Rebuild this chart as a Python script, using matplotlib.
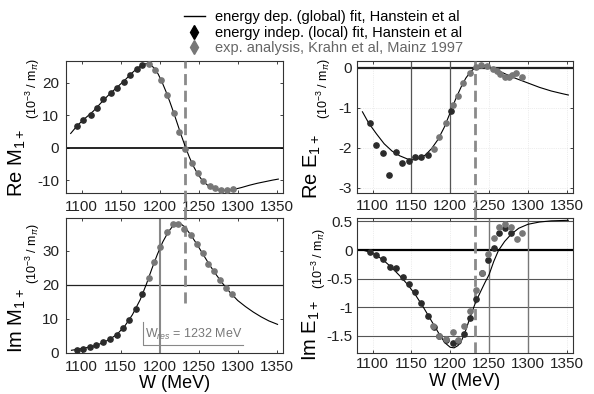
import matplotlib
matplotlib.use("Agg")
from matplotlib import pyplot as plt
from matplotlib.lines import Line2D

plt.rcParams['font.family'] = ['Liberation Sans', 'DejaVu Sans']
plt.rcParams['axes.unicode_minus'] = False
plt.rcParams['mathtext.fontset'] = 'custom'
plt.rcParams['mathtext.rm'] = 'Liberation Sans'
plt.rcParams['mathtext.it'] = 'Liberation Sans:italic'

W_RES = 1232
XTICKS = [1100, 1150, 1200, 1250, 1300, 1350]

# ---- Re M1+ ----
reM_fit_w = [1086, 1095, 1105, 1115, 1125, 1135, 1145, 1155, 1165, 1172, 1178, 1183, 1188,
             1193, 1198, 1203, 1208, 1213, 1218, 1223, 1228, 1233, 1238, 1243, 1248, 1253,
             1258, 1263, 1268, 1274, 1280, 1287, 1295, 1305, 1315, 1325, 1335, 1345, 1352]
reM_fit = [4.4, 7.0, 9.2, 11.3, 13.9, 16.4, 18.6, 20.8, 23.2, 24.7, 25.6, 26.0, 25.7,
           24.6, 22.8, 20.3, 17.4, 14.2, 10.8, 7.2, 3.6, 0.2, -2.9, -5.6, -7.8, -9.6,
           -10.9, -11.9, -12.6, -13.0, -13.2, -13.2, -12.9, -12.3, -11.6, -11.0, -10.5, -10.0, -9.7]
reM_loc_w = [1094, 1102, 1112, 1120, 1128, 1138, 1145, 1154, 1162, 1171, 1178]
reM_loc = [6.8, 8.6, 10.1, 12.4, 14.9, 17.0, 18.6, 20.4, 22.5, 24.3, 25.5]
reM_exp_w = [1186, 1194, 1202, 1210, 1218, 1225, 1233, 1241, 1249, 1256, 1264, 1271, 1278, 1286, 1294]
reM_exp = [26.0, 24.0, 21.0, 16.4, 10.7, 4.7, -0.5, -4.8, -7.9, -10.2, -11.8, -12.6, -13.1, -13.0, -12.8]

# ---- Re E1+ ----
reE_fit_w = [1087, 1095, 1105, 1115, 1125, 1135, 1145, 1152, 1160, 1168, 1176, 1184, 1192,
             1200, 1207, 1214, 1220, 1226, 1232, 1238, 1244, 1250, 1257, 1265, 1275, 1285,
             1300, 1315, 1330, 1345, 1352]
reE_fit = [-1.10, -1.38, -1.65, -1.90, -2.08, -2.20, -2.28, -2.30, -2.27, -2.18, -2.02, -1.80, -1.50,
           -1.12, -0.78, -0.48, -0.26, -0.10, 0.0, 0.05, 0.06, 0.03, -0.03, -0.10, -0.19, -0.27,
           -0.38, -0.49, -0.58, -0.65, -0.68]
reE_loc_w = [1097, 1104, 1113, 1121, 1130, 1138, 1147, 1155, 1162, 1171, 1201]
reE_loc = [-1.38, -1.92, -2.12, -2.67, -2.11, -2.37, -2.32, -2.22, -2.22, -2.17, -1.08]
reE_exp_w = [1179, 1186, 1195, 1203, 1210, 1217, 1225, 1233, 1240, 1247, 1255, 1260, 1264,
             1271, 1276, 1280, 1285, 1292]
reE_exp = [-2.02, -1.72, -1.39, -0.93, -0.71, -0.38, -0.12, 0.03, 0.07, 0.05, -0.02, -0.08, -0.15,
           -0.22, -0.22, -0.17, -0.12, -0.22]

# ---- Im M1+ ----
imM_fit_w = [1087, 1095, 1105, 1115, 1125, 1135, 1145, 1155, 1165, 1175, 1183, 1190, 1197,
             1204, 1211, 1217, 1222, 1227, 1232, 1240, 1248, 1256, 1264, 1272, 1280, 1290,
             1300, 1310, 1320, 1330, 1340, 1351]
imM_fit = [0.8, 1.1, 1.5, 2.0, 2.8, 3.9, 5.4, 7.8, 11.2, 15.6, 20.2, 24.7, 28.9,
           32.6, 35.5, 37.3, 38.0, 37.9, 37.0, 34.6, 31.8, 28.8, 25.8, 23.1, 20.6, 17.8,
           15.4, 13.6, 12.0, 10.6, 9.4, 8.4]
imM_loc_w = [1094, 1102, 1111, 1119, 1128, 1136, 1145, 1153, 1161, 1170, 1178]
imM_loc = [1.0, 1.3, 1.8, 2.3, 3.1, 4.0, 5.4, 7.2, 9.8, 12.8, 17.4]
imM_exp_w = [1186, 1193, 1201, 1209, 1217, 1224, 1231, 1240, 1248, 1255, 1262, 1270, 1277, 1285, 1293]
imM_exp = [22.1, 26.7, 31.1, 35.5, 37.8, 37.8, 36.5, 34.5, 32.1, 29.2, 26.2, 24.0, 21.3, 19.2, 17.2]

# ---- Im E1+ ----
imE_fit_w = [1087, 1095, 1105, 1115, 1125, 1135, 1145, 1155, 1165, 1175, 1185, 1193, 1200,
             1205, 1210, 1215, 1220, 1226, 1233, 1240, 1245, 1250, 1256, 1262, 1270, 1278,
             1288, 1300, 1315, 1330, 1352]
imE_fit = [0.0, -0.03, -0.09, -0.19, -0.31, -0.45, -0.60, -0.78, -0.99, -1.22, -1.45, -1.62, -1.70,
           -1.71, -1.67, -1.57, -1.40, -1.16, -0.90, -0.70, -0.56, -0.43, -0.20, -0.01, 0.15, 0.27,
           0.38, 0.45, 0.49, 0.51, 0.52]
imE_loc_w = [1097, 1104, 1113, 1122, 1130, 1139, 1147, 1155, 1163, 1171, 1179, 1186, 1195,
             1203, 1210, 1218, 1226, 1233, 1241, 1248, 1256, 1263, 1271, 1278]
imE_loc = [-0.03, -0.09, -0.16, -0.30, -0.32, -0.47, -0.59, -0.73, -0.93, -1.15, -1.35, -1.50, -1.58,
           -1.63, -1.59, -1.47, -1.19, -0.86, -0.41, -0.17, 0.04, 0.30, 0.38, 0.29]
imE_exp_w = [1178, 1186, 1195, 1203, 1210, 1218, 1226, 1233, 1241, 1248, 1256, 1263, 1271, 1278, 1286, 1293]
imE_exp = [-1.33, -1.50, -1.56, -1.43, -1.57, -1.33, -1.07, -0.70, -0.41, -0.07, 0.21, 0.41, 0.46, 0.41, 0.19, 0.30]

DARK = '#2b2b2b'
GREY = '#777777'
DASH = '#8a8a8a'

fig = plt.figure(figsize=(5.94, 3.94), dpi=100)
W, H = 594, 394


def px_axes(x0, y0, x1, y1):
    return fig.add_axes([x0 / W, 1 - y1 / H, (x1 - x0) / W, (y1 - y0) / H])


def style(ax, ylim, yticks, ylabels, pad=5):
    ax.set_xlim(1080, 1358)
    ax.set_ylim(*ylim)
    ax.set_xticks(XTICKS)
    ax.set_yticks(yticks)
    ax.set_yticklabels(ylabels)
    ax.tick_params(direction='in', length=2.5, width=0.6, labelsize=11, pad=pad,
                   top=True, right=True, colors='#222222')
    for s in ax.spines.values():
        s.set_linewidth(0.8)
        s.set_color('#333333')


def draw(ax, fw, fv, lw_, lv, ew, ev):
    ax.plot(fw, fv, color='black', lw=0.8, zorder=4)
    ax.plot(lw_, lv, 'o', color=DARK, ms=3.8, mec=DARK, zorder=5)
    ax.plot(ew, ev, 'o', color=GREY, ms=3.8, mec=GREY, zorder=6)


def ylabel(xbig, xsmall, ax, fbig, fsmall, big):
    pos = ax.get_position()
    fig.text(xbig / W, pos.y0 + fbig * pos.height, big, rotation=90,
             ha='center', va='center', fontsize=14.5)
    fig.text(xsmall / W, pos.y0 + fsmall * pos.height, r'(10$^{-3}$ / m$_\pi$)',
             rotation=90, ha='center', va='center', fontsize=9)


# top-left: Re M1+
ax1 = px_axes(66, 61, 283, 193)
style(ax1, (-14.0, 26.8), [-10, 0, 10, 20], ['-10', '0', '10', '20'])
ax1.axhline(0, color='black', lw=1.2, zorder=2)
ax1.axvline(W_RES, ymin=-0.19, ymax=1, color=DASH, lw=2, ls=(0, (4, 2)), clip_on=False, zorder=3)
draw(ax1, reM_fit_w, reM_fit, reM_loc_w, reM_loc, reM_exp_w, reM_exp)
ylabel(17, 33, ax1, 0.23, 0.79, r'Re M$_{1+}$')

# top-right: Re E1+
ax2 = px_axes(357, 61, 573, 193)
style(ax2, (-3.13, 0.17), [-3, -2, -1, 0], ['-3', '-2', '-1', '0'], pad=4)
ax2.grid(True, ls=':', lw=0.5, color='#dddddd')
ax2.axhline(0, color='#222222', lw=1.6, zorder=2)
for v in [1150, 1200]:
    ax2.axvline(v, color='#555555', lw=0.9, zorder=2)
ax2.axvline(W_RES, ymin=-0.19, ymax=1, color=DASH, lw=2, ls=(0, (4, 2)), clip_on=False, zorder=3)
draw(ax2, reE_fit_w, reE_fit, reE_loc_w, reE_loc, reE_exp_w, reE_exp)
ylabel(312, 324, ax2, 0.2, 0.79, r'Re E$_{1+}$')

# bottom-left: Im M1+
ax3 = px_axes(66, 218, 283, 353)
style(ax3, (0, 39.6), [0, 10, 20, 30], ['0', '10', '20', '30'])
ax3.axhline(20, color='#222222', lw=0.9, zorder=2)
ax3.axvline(1200, color='#888888', lw=1.5, zorder=2)
ax3.axvline(W_RES, ymin=0.37, ymax=1, color=DASH, lw=2, ls=(0, (4, 2)), zorder=3)
draw(ax3, imM_fit_w, imM_fit, imM_loc_w, imM_loc, imM_exp_w, imM_exp)
ax3.plot([0.354, 0.354, 0.815], [0.23, 0.06, 0.06], transform=ax3.transAxes,
         color='#888888', lw=0.8)
ax3.text(0.366, 0.135, r'W$_{res}$ = 1232 MeV', transform=ax3.transAxes,
         fontsize=9, color='#777777', ha='left', va='center')
ax3.set_xlabel('W (MeV)', fontsize=13, labelpad=1)
ylabel(17, 33, ax3, 0.24, 0.74, r'Im M$_{1+}$')

# bottom-right: Im E1+
ax4 = px_axes(357, 218, 573, 353)
style(ax4, (-1.8, 0.56), [-1.5, -1, -0.5, 0, 0.5], ['-1.5', '-1', '-0.5', '0', '0.5'], pad=3)
ax4.grid(True, axis='x', ls=':', lw=0.5, color='#dddddd')
for v in [-1.5, -1, -0.5, 0.5]:
    ax4.axhline(v, color='#555555', lw=0.8, zorder=2)
ax4.axhline(0, color='black', lw=1.6, zorder=2)
for v in [1250, 1300]:
    ax4.axvline(v, color='#777777', lw=1.0, zorder=2)
ax4.axvline(W_RES, color=DASH, lw=2, ls=(0, (4, 2)), zorder=3)
draw(ax4, imE_fit_w, imE_fit, imE_loc_w, imE_loc, imE_exp_w, imE_exp)
ax4.set_xlabel('W (MeV)', fontsize=13, labelpad=1)
ylabel(311, 319, ax4, 0.17, 0.70, r'Im E$_{1+}$')

# legend
handles = [
    Line2D([], [], color='black', lw=1.0),
    Line2D([], [], ls='none', marker='d', color='black', ms=7),
    Line2D([], [], ls='none', marker='d', color=GREY, ms=7),
]
labels = ['energy dep. (global) fit, Hanstein et al',
          'energy indep. (local) fit, Hanstein et al',
          'exp. analysis, Krahn et al, Mainz 1997']
leg = fig.legend(handles, labels, loc='upper left', bbox_to_anchor=(174 / W, 1 - 0 / H),
                 frameon=False, fontsize=10.5, handlelength=1.4, handletextpad=0.7,
                 labelspacing=0.1, borderpad=0.2)
leg.get_texts()[2].set_color('#666666')

fig.savefig('out.png', dpi=100)
